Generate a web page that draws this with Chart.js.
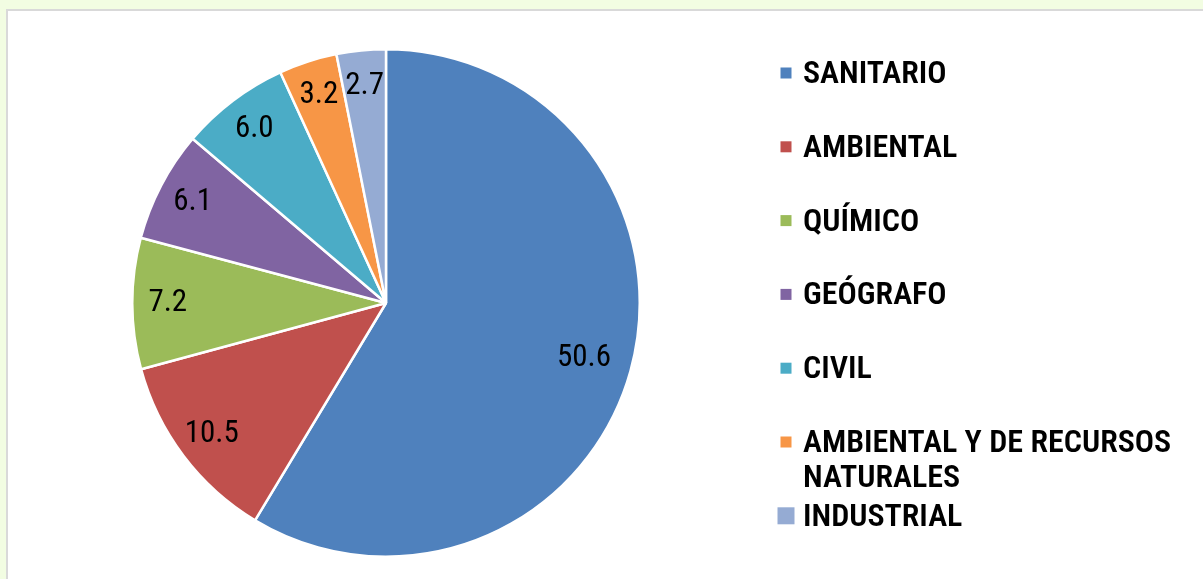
<!DOCTYPE html>
<html>
<head>
<meta charset="utf-8">
<script src="https://cdn.jsdelivr.net/npm/chart.js@4.4.1/dist/chart.umd.min.js"></script>
<style>
    html, body { margin: 0; padding: 0; background: #f2fde2; overflow: hidden; }
    #panel {
        position: absolute; left: 6px; top: 9px;
        width: 1210px; height: 580px;
        background: #ffffff; border: 2px solid #d9d9d9;
    }
    #chartBox { position: absolute; left: 0; top: 0; width: 1195px; height: 568px; }
</style>
</head>
<body>
<div id="panel"><div id="chartBox"><canvas id="pieChart"></canvas></div></div>
<script>
// categorias e valores (%)
const categorias = ['SANITARIO', 'AMBIENTAL', 'QUÍMICO', 'GEÓGRAFO', 'CIVIL',
    ['AMBIENTAL Y DE RECURSOS', 'NATURALES'], 'INDUSTRIAL'];
const valores = [50.6, 10.5, 7.2, 6.1, 6.0, 3.2, 2.7];
const cores = ['#4f81bd', '#c0504d', '#9bbb59', '#8064a2', '#4bacc6', '#f79646', '#95abd3'];

const fonteRotulo = '31px "Liberation Sans Narrow", "Arial Narrow", "Roboto Condensed", sans-serif';
const fonteLegenda = '600 32px "Liberation Sans Narrow", "Arial Narrow", "Roboto Condensed", sans-serif';

// rotulos de dados dentro das fatias
const rotulosPlugin = {
    id: 'rotulos',
    afterDatasetsDraw(chart) {
        const ctx = chart.ctx;
        const meta = chart.getDatasetMeta(0);
        ctx.save();
        ctx.font = fonteRotulo;
        ctx.fillStyle = '#000';
        ctx.textAlign = 'center';
        ctx.textBaseline = 'middle';
        meta.data.forEach((arc, i) => {
            const p = arc.getProps(['x', 'y', 'startAngle', 'endAngle', 'outerRadius']);
            const mid = (p.startAngle + p.endAngle) / 2;
            const f = i === 0 ? 0.81 : 0.86;
            const x = p.x + Math.cos(mid) * p.outerRadius * f;
            const y = p.y + Math.sin(mid) * p.outerRadius * f;
            ctx.fillText(valores[i].toFixed(1), x, y);
        });
        ctx.restore();
    }
};

// legenda desenhada a direita
const legendaPlugin = {
    id: 'legenda',
    afterDraw(chart) {
        const ctx = chart.ctx;
        const x0 = 772, y0 = 62, passo = 73.8;
        ctx.save();
        ctx.font = fonteLegenda;
        ctx.textBaseline = 'middle';
        ctx.textAlign = 'left';
        chart.data.labels.forEach((lab, i) => {
            const y = y0 + i * passo;
            const s = i === chart.data.labels.length - 1 ? 17 : 11;
            ctx.fillStyle = cores[i];
            ctx.fillRect(x0 + 6 - s / 2, y - s / 2, s, s);
            ctx.fillStyle = '#000';
            const linhas = Array.isArray(lab) ? lab : [lab];
            linhas.forEach((t, k) => ctx.fillText(t, x0 + 23, y + 2 + k * 35));
        });
        ctx.restore();
    }
};

new Chart(document.getElementById('pieChart'), {
    type: 'pie',
    data: {
        labels: categorias,
        datasets: [{
            data: valores,
            backgroundColor: cores,
            borderColor: '#ffffff',
            borderWidth: 2.5,
            hoverOffset: 0
        }]
    },
    options: {
        responsive: true,
        maintainAspectRatio: false,
        animation: false,
        layout: { padding: { left: 123, right: 562, top: 37, bottom: 21 } },
        plugins: {
            legend: { display: false },
            tooltip: { enabled: false }
        }
    },
    plugins: [rotulosPlugin, legendaPlugin]
});
</script>
</body>
</html>
